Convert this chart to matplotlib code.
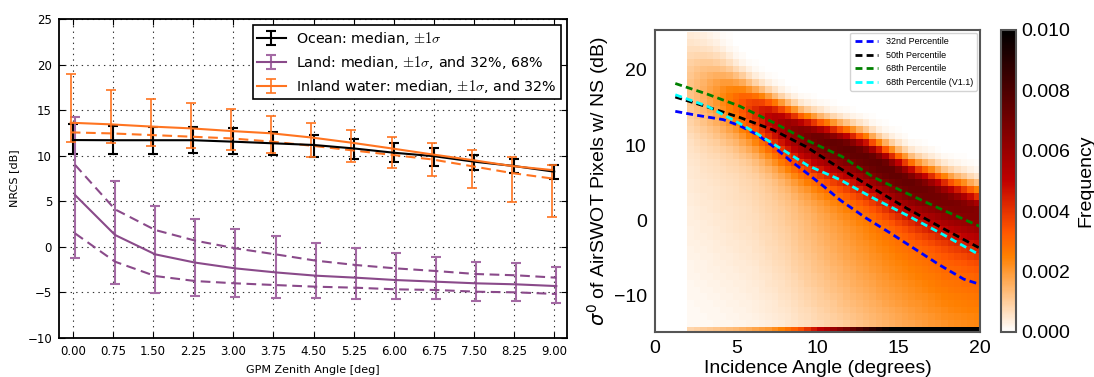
import numpy as np
import matplotlib
matplotlib.use("Agg")
import matplotlib.pyplot as plt
from matplotlib.font_manager import FontProperties

plt.rcParams['lines.scale_dashes'] = False
plt.rcParams['axes.unicode_minus'] = True

# ---------------- left panel data ----------------
zenith = [0.00, 0.75, 1.50, 2.25, 3.00, 3.75, 4.50, 5.25, 6.00, 6.75, 7.50, 8.25, 9.00]
zenith_labels = ["0.00", "0.75", "1.50", "2.25", "3.00", "3.75", "4.50",
                 "5.25", "6.00", "6.75", "7.50", "8.25", "9.00"]

ocean_med = [11.72, 11.70, 11.70, 11.70, 11.54, 11.36, 11.18, 10.80, 10.33, 9.95, 9.35, 8.87, 8.25]
ocean_lo = [10.15, 10.15, 10.20, 10.30, 10.20, 10.10, 9.90, 9.60, 9.35, 8.90, 8.43, 8.07, 7.44]
ocean_hi = [13.44, 13.26, 13.20, 13.20, 13.00, 12.64, 12.27, 11.80, 11.36, 10.80, 10.07, 9.60, 8.98]

land_med = [5.69, 1.30, -0.82, -1.73, -2.36, -2.80, -3.16, -3.38, -3.64, -3.82, -4.00, -4.11, -4.30]
land_lo = [-1.26, -4.08, -5.10, -5.36, -5.47, -5.58, -5.66, -5.76, -5.76, -5.76, -5.90, -5.95, -6.13]
land_hi = [14.28, 7.26, 4.48, 3.06, 1.96, 1.19, 0.46, -0.16, -0.64, -1.08, -1.63, -1.80, -2.24]
land_p32 = [1.48, -1.63, -3.20, -3.75, -4.00, -4.19, -4.37, -4.48, -4.66, -4.73, -4.92, -4.99, -5.17]
land_p68 = [9.00, 4.11, 1.85, 0.68, -0.16, -0.82, -1.51, -1.99, -2.36, -2.65, -2.98, -3.12, -3.38]

inland_med = [13.62, 13.44, 13.20, 13.00, 12.71, 12.46, 12.00, 11.43, 10.80, 10.15, 9.53, 8.87, 8.43]
inland_lo = [11.47, 11.36, 11.07, 10.88, 10.63, 10.26, 9.90, 9.35, 8.60, 7.77, 6.42, 4.96, 3.31]
inland_hi = [18.93, 17.20, 16.19, 15.78, 15.10, 14.36, 13.62, 12.82, 12.09, 11.43, 10.63, 9.90, 8.98]
inland_p32 = [12.56, 12.45, 12.27, 12.09, 11.90, 11.55, 11.10, 10.60, 10.10, 9.60, 8.85, 8.10, 7.50]

# ---------------- right panel data ----------------
p32_x = [1.25, 2.5, 4.2, 5.2, 6.3, 7.3, 8.3, 9.4, 10.4, 11.4, 13.0, 14.5, 16.0, 17.5, 19.0, 20.0]
p32_y = [14.5, 14.0, 13.4, 12.6, 11.4, 9.8, 8.0, 6.2, 4.5, 2.7, 0.3, -1.7, -3.8, -5.9, -7.8, -8.5]
p50_x = [1.25, 3.2, 5.2, 7.3, 9.3, 11.4, 13.4, 15.5, 17.5, 20.0]
p50_y = [16.4, 15.1, 13.7, 12.0, 9.8, 6.9, 4.3, 1.6, -0.8, -3.7]
p68_x = [1.25, 3.2, 5.2, 7.3, 9.3, 11.5, 13.4, 15.5, 17.5, 20.0]
p68_y = [18.2, 16.8, 15.2, 13.0, 10.7, 8.5, 5.8, 3.6, 1.6, -0.8]
p68v11_x = [1.25, 3.2, 5.2, 6.3, 8.3, 9.4, 11.4, 13.4, 15.5, 17.5, 20.0]
p68v11_y = [16.7, 15.2, 12.9, 11.5, 8.8, 7.3, 5.4, 3.0, 0.7, -1.6, -4.6]

# per-incidence-angle description of the frequency histogram
hist_x = [2, 3, 4, 5, 6, 7, 8, 9, 10, 11, 12, 13, 14, 15, 16, 17, 18, 19, 20]
hist_mode = [17.5, 17.0, 16.5, 15.8, 14.9, 13.9, 12.8, 11.8, 11.0, 10.3, 9.6, 8.6, 7.4, 6.0, 4.8, 3.8, 2.8, 1.9, 1.0]
hist_core = [0.0006, 0.0010, 0.0015, 0.0022, 0.0031, 0.0040, 0.0047, 0.0051, 0.0053, 0.0052,
             0.0050, 0.0048, 0.0046, 0.0044, 0.0042, 0.0039, 0.0036, 0.0034, 0.0032]
hist_tail = [0.0005, 0.0006, 0.0007, 0.0008, 0.0009, 0.0011, 0.0013, 0.0016, 0.0019, 0.0022,
             0.0025, 0.0027, 0.0029, 0.0030, 0.0031, 0.0032, 0.0033, 0.0033, 0.0033]
hist_up_width = [5.0, 4.2, 3.4, 2.6, 2.1, 1.9, 1.8, 1.7, 1.7, 1.7, 1.7, 1.8, 1.8, 1.9, 1.9, 2.0, 2.0, 2.1, 2.1]
hist_core_down_width = [4.0, 4.0, 3.8, 3.6, 3.5, 3.5, 3.5, 3.5, 3.5, 3.5, 3.5, 3.5, 3.5, 3.5, 3.5, 3.5, 3.5, 3.5, 3.5]
hist_tail_down_width = [18] * 19
hist_bottom_row = [0.0008, 0.0010, 0.0012, 0.0014, 0.0017, 0.0020, 0.0026, 0.0035, 0.0048, 0.0060,
                   0.0072, 0.0085, 0.0095, 0.0105, 0.011, 0.011, 0.011, 0.011, 0.011]

# ---------------- figure ----------------
fig = plt.figure(figsize=(10.94, 3.77), dpi=100)

# ======== left panel (classic look) ========
ax1 = fig.add_axes([0.0539, 0.1034, 0.4644, 0.8462])
z = np.array(zenith)
c_ocean = 'black'
c_land = '#8a4a8a'
c_land_err = '#a46aa4'
c_inland = '#ff7420'

def err(med, lo, hi):
    med = np.array(med); lo = np.array(lo); hi = np.array(hi)
    return np.vstack([med - lo, hi - med])

h_ocean = ax1.errorbar(z, ocean_med, yerr=err(ocean_med, ocean_lo, ocean_hi), color=c_ocean,
                       lw=1.5, elinewidth=1.5, capsize=3.5, capthick=1.5,
                       label=r'Ocean: median, $\pm1\sigma$', zorder=3)
h_land = ax1.errorbar(z + 0.04, land_med, yerr=err(land_med, land_lo, land_hi), color=c_land,
                      ecolor=c_land_err, lw=1.5, elinewidth=1.5, capsize=3.5, capthick=1.5,
                      label=r'Land: median, $\pm1\sigma$, and 32%, 68%', zorder=3)
ax1.plot(z + 0.04, land_p32, color=c_land, lw=1.5, dashes=(7, 4), zorder=3)
ax1.plot(z + 0.04, land_p68, color=c_land, lw=1.5, dashes=(7, 4), zorder=3)
h_inland = ax1.errorbar(z - 0.04, inland_med, yerr=err(inland_med, inland_lo, inland_hi), color=c_inland,
                        lw=1.5, elinewidth=1.2, capsize=3.5, capthick=1.2,
                        label=r'Inland water: median, $\pm1\sigma$, and 32%', zorder=3)
ax1.plot(z - 0.04, inland_p32, color=c_inland, lw=1.5, dashes=(7, 4), zorder=3)

ax1.set_xlim(-0.26, 9.24)
ax1.set_ylim(-10, 25)
ax1.set_xticks(zenith)
ax1.set_xticklabels(zenith_labels)
ax1.set_yticks(np.arange(-10, 26, 5))
ax1.tick_params(direction='in', top=True, right=True, labelsize=8.5, length=4, width=0.8, pad=5)
ax1.grid(True, linestyle=(0, (1, 3)), color='k', linewidth=0.8, alpha=0.8)
for s in ax1.spines.values():
    s.set_linewidth(1.3)
ax1.set_xlabel('GPM Zenith Angle [deg]', fontsize=8, labelpad=5)
ax1.set_ylabel('NRCS [dB]', fontsize=8, labelpad=6)
leg_prop = FontProperties(family='DejaVu Sans', size=10.3, math_fontfamily='cm')
leg1 = ax1.legend(handles=[h_ocean, h_land, h_inland], loc='upper right', prop=leg_prop,
                  fancybox=False, framealpha=1, edgecolor='black', borderaxespad=0.45,
                  handlelength=2.0, labelspacing=0.5, borderpad=0.3, handletextpad=0.7)
leg1.get_frame().set_linewidth(1.2)

# ======== right panel ========
rf = 'Liberation Sans'
ax2 = fig.add_axes([0.5987, 0.1194, 0.2971, 0.8011])
inc_edges = np.linspace(2, 20, 46)
sig_edges = np.linspace(-15, 25, 46)
xc = 0.5 * (inc_edges[:-1] + inc_edges[1:])
yc = 0.5 * (sig_edges[:-1] + sig_edges[1:])
mode = np.interp(xc, hist_x, hist_mode)
A = np.interp(xc, hist_x, hist_core)
B = np.interp(xc, hist_x, hist_tail)
su = np.interp(xc, hist_x, hist_up_width)
sd = np.interp(xc, hist_x, hist_core_down_width)
st = np.interp(xc, hist_x, hist_tail_down_width)
bottom = np.interp(xc, hist_x, hist_bottom_row)
D = yc[:, None] - mode[None, :]
above = D > 0
core = np.where(above, A * np.exp(-0.5 * (D / su) ** 2), A * np.exp(-0.5 * (D / sd) ** 2))
tail = np.where(above, B * np.exp(-0.5 * (D / su) ** 2), B * np.exp(-0.5 * (D / st) ** 2))
freq = core + tail
freq[0, :] = bottom
mesh = ax2.pcolormesh(inc_edges, sig_edges, freq, cmap='gist_heat_r', vmin=0, vmax=0.01,
                      shading='flat', rasterized=True)

dash = (5, 3)
ax2.plot(p32_x, p32_y, color='blue', lw=2, dashes=dash, label='32nd Percentile')
ax2.plot(p50_x, p50_y, color='black', lw=2, dashes=dash, label='50th Percentile')
ax2.plot(p68_x, p68_y, color='green', lw=2, dashes=dash, label='68th Percentile')
ax2.plot(p68v11_x, p68v11_y, color='cyan', lw=2, dashes=dash, label='68th Percentile (V1.1)')

ax2.set_xlim(0, 20)
ax2.set_ylim(-14.82, 25.31)
ax2.set_xticks([0, 5, 10, 15, 20])
ax2.set_yticks([-10, 0, 10, 20])
ax2.tick_params(length=0, labelsize=14, pad=6)
for lab in ax2.get_xticklabels() + ax2.get_yticklabels():
    lab.set_fontfamily(rf)
for s in ax2.spines.values():
    s.set_linewidth(1.5)
    s.set_color('#555555')
ax2.set_xlabel('Incidence Angle (degrees)', fontsize=14, fontfamily=rf, labelpad=2)
ax2.set_ylabel(r'$\sigma^0$ of AirSWOT Pixels w/ NS (dB)', fontsize=14, fontfamily=rf, labelpad=2)
leg2 = ax2.legend(loc='upper right', prop=FontProperties(family=rf, size=6.5), frameon=True,
                  framealpha=0.85, edgecolor='#cccccc', fancybox=True, borderaxespad=0.3,
                  handlelength=2.6, labelspacing=0.5, borderpad=0.5)

cax = fig.add_axes([0.915, 0.1194, 0.0137, 0.8011])
cb = fig.colorbar(mesh, cax=cax, ticks=np.arange(0, 0.0101, 0.002), format='%.3f')
cb.outline.set_edgecolor('#555555')
cb.outline.set_linewidth(1.5)
cax.tick_params(length=0, labelsize=14, pad=4)
for lab in cax.get_yticklabels():
    lab.set_fontfamily(rf)
cb.set_label('Frequency', fontsize=14, fontfamily=rf, labelpad=5)

fig.savefig('out.png', dpi=100)
